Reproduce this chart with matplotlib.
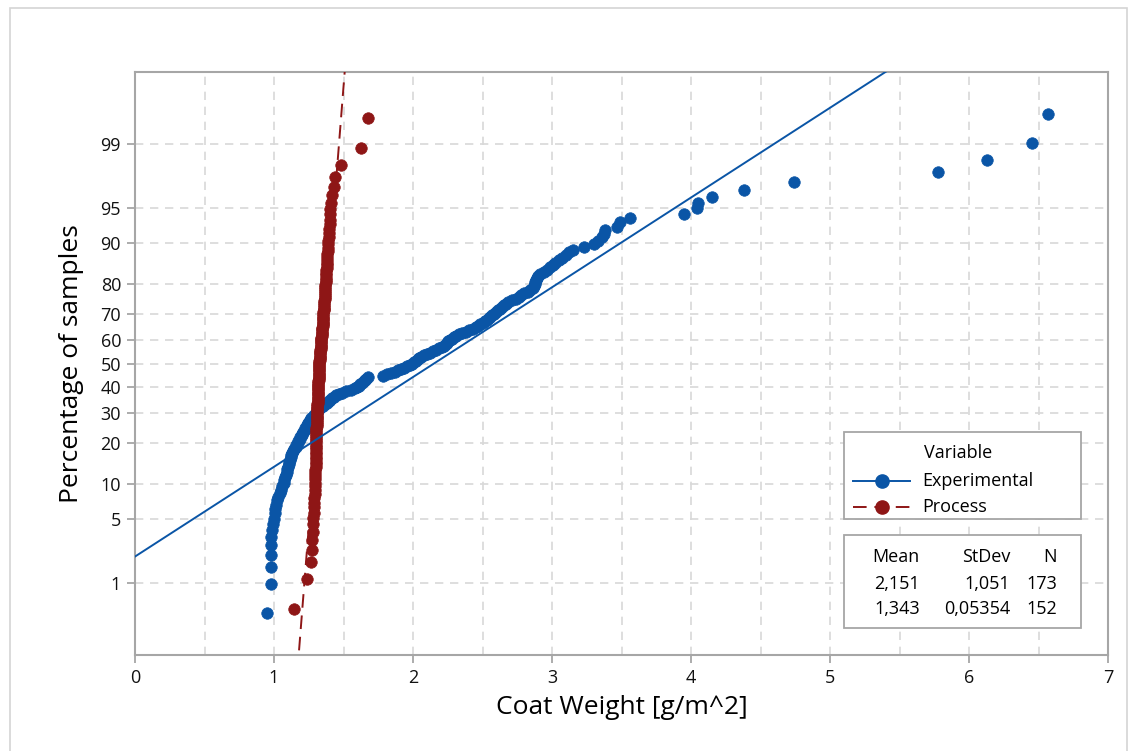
#!/usr/bin/env python3
"""
Normal probability plot of coat weight: experimental vs process samples,
Minitab style (median ranks, fitted normal lines, legend and stats table).
"""

import numpy as np
import matplotlib
matplotlib.use("Agg")
import matplotlib.pyplot as plt
from matplotlib.lines import Line2D
from matplotlib.patches import Rectangle
from matplotlib.ticker import NullLocator
from statistics import NormalDist

plt.rcParams['font.family'] = ['Open Sans', 'DejaVu Sans']

# sorted sample values (g/m^2)
exp_vals = [
    0.95, 0.975, 0.975, 0.975, 0.98, 0.98, 0.985, 0.99, 1.00, 1.007,
    1.01, 1.015, 1.02, 1.03, 1.04, 1.05, 1.06, 1.07, 1.075, 1.08,
    1.085, 1.09, 1.095, 1.10, 1.105, 1.11, 1.115, 1.12, 1.125, 1.13,
    1.14, 1.145, 1.155, 1.16, 1.17, 1.175, 1.185, 1.19, 1.20, 1.205,
    1.21, 1.22, 1.225, 1.235, 1.24, 1.245, 1.25, 1.26, 1.265, 1.28,
    1.29, 1.30, 1.31, 1.315, 1.325, 1.34, 1.35, 1.37, 1.38, 1.395,
    1.405, 1.42, 1.43, 1.445, 1.465, 1.49, 1.52, 1.555, 1.58, 1.60,
    1.61, 1.62, 1.635, 1.645, 1.655, 1.665, 1.675, 1.785, 1.81, 1.84,
    1.87, 1.89, 1.915, 1.935, 1.96, 1.98, 1.995, 2.01, 2.025, 2.035,
    2.045, 2.06, 2.08, 2.10, 2.12, 2.145, 2.165, 2.185, 2.21, 2.225,
    2.235, 2.245, 2.255, 2.265, 2.28, 2.295, 2.31, 2.33, 2.355, 2.38,
    2.405, 2.43, 2.455, 2.47, 2.485, 2.50, 2.515, 2.53, 2.545, 2.555,
    2.57, 2.585, 2.60, 2.61, 2.625, 2.64, 2.655, 2.67, 2.685, 2.71,
    2.74, 2.765, 2.78, 2.80, 2.825, 2.84, 2.86, 2.87, 2.88, 2.88,
    2.885, 2.89, 2.90, 2.915, 2.94, 2.965, 2.985, 3.005, 3.02, 3.05,
    3.075, 3.10, 3.12, 3.15, 3.23, 3.30, 3.33, 3.36, 3.375, 3.38,
    3.465, 3.49, 3.56, 3.95, 4.04, 4.05, 4.15, 4.38, 4.74, 5.78,
    6.13, 6.45, 6.57,
]

proc_vals = [
    1.145, 1.235, 1.265, 1.27, 1.275, 1.278, 1.28, 1.282, 1.285, 1.287,
    1.289, 1.29, 1.292, 1.293, 1.295, 1.296, 1.297, 1.297, 1.298, 1.298,
    1.299, 1.299, 1.30, 1.30, 1.30, 1.30, 1.30, 1.30, 1.301, 1.301,
    1.302, 1.302, 1.303, 1.303, 1.304, 1.304, 1.305, 1.305, 1.306, 1.306,
    1.307, 1.307, 1.308, 1.308, 1.309, 1.309, 1.31, 1.31, 1.311, 1.311,
    1.312, 1.313, 1.313, 1.314, 1.314, 1.315, 1.315, 1.316, 1.316, 1.317,
    1.318, 1.318, 1.319, 1.32, 1.32, 1.321, 1.321, 1.322, 1.322, 1.323,
    1.323, 1.324, 1.324, 1.325, 1.325, 1.325, 1.326, 1.327, 1.328, 1.329,
    1.330, 1.330, 1.332, 1.333, 1.333, 1.335, 1.336, 1.336, 1.338, 1.339,
    1.340, 1.341, 1.341, 1.343, 1.344, 1.345, 1.345, 1.347, 1.348, 1.349,
    1.350, 1.351, 1.352, 1.352, 1.354, 1.355, 1.356, 1.356, 1.358, 1.359,
    1.360, 1.360, 1.362, 1.363, 1.364, 1.365, 1.365, 1.367, 1.368, 1.369,
    1.370, 1.370, 1.372, 1.373, 1.374, 1.375, 1.376, 1.376, 1.378, 1.379,
    1.380, 1.381, 1.383, 1.384, 1.386, 1.388, 1.390, 1.392, 1.394, 1.396,
    1.398, 1.400, 1.402, 1.404, 1.406, 1.410, 1.415, 1.435, 1.44, 1.48,
    1.626, 1.676,
]

labels = ['Experimental', 'Process']
colors = ['#0a55a6', '#8e1616']
styles = ['-', (0, (7, 4))]
means = [2.151, 1.343]
stdevs = [1.051, 0.05354]
counts = [173, 152]

y_ticks = [1, 5, 10, 20, 30, 40, 50, 60, 70, 80, 90, 95, 99]
x_ticks = [0, 1, 2, 3, 4, 5, 6, 7]

_nd = NormalDist()
_ppf = np.vectorize(_nd.inv_cdf, otypes=[float])
_cdf = np.vectorize(_nd.cdf, otypes=[float])


def prob_fwd(p):
    p = np.clip(np.asarray(p, dtype=float), 1e-9, 100 - 1e-9)
    return _ppf(p / 100.0)


def prob_inv(z):
    return _cdf(np.asarray(z, dtype=float)) * 100.0


def median_ranks(n):
    # Minitab default: (i - 0.3) / (n + 0.4)
    return 100.0 * (np.arange(1, n + 1) - 0.3) / (n + 0.4)


W, H = 1136, 751
L, R, T, B = 135, 1108, 72, 655

fig = plt.figure(figsize=(W / 100, H / 100), dpi=100)
fig.patches.append(Rectangle((10 / W, -0.02), 1117 / W, 1.02 - 8 / H,
                             transform=fig.transFigure, fill=False,
                             edgecolor='#d4d4d4', linewidth=1.2))
ax = fig.add_axes([L / W, 1 - B / H, (R - L) / W, (B - T) / H])

ax.set_yscale('function', functions=(prob_fwd, prob_inv))

grid_kw = dict(color='#d8d8d8', linestyle=(0, (5, 4)), linewidth=1.2)
ax.set_xticks(x_ticks)
ax.set_xticks(np.arange(0.5, 7, 1.0), minor=True)
ax.set_yticks(y_ticks)
ax.set_yticklabels([str(t) for t in y_ticks])
ax.yaxis.set_minor_locator(NullLocator())
ax.grid(True, axis='x', which='both', **grid_kw)
ax.grid(True, axis='y', which='major', **grid_kw)
ax.set_axisbelow(True)

p_line = np.array([0.01, 99.99])
for vals, c, ls, m, s in zip([exp_vals, proc_vals], colors, styles, means, stdevs):
    x = np.array(vals)
    ax.plot(x, median_ranks(len(x)), linestyle='none', marker='o', ms=8.3,
            mfc=c, mec=c, mew=0.5, zorder=3)
    ax.plot(m + s * prob_fwd(p_line), p_line, color=c, linestyle=ls,
            linewidth=1.4, zorder=4)

ax.set_xlim(0, 7)
ax.set_ylim(0.1, 99.9)

for sp in ax.spines.values():
    sp.set_color('#a6a6a6')
    sp.set_linewidth(1.5)
ax.tick_params(which='major', length=6, width=1.3, color='#a6a6a6',
               labelsize=13, labelcolor='#111111', pad=4)
ax.tick_params(which='minor', length=0)

ax.set_xlabel('Coat Weight [g/m^2]', fontsize=19, labelpad=6)
ax.set_ylabel('Percentage of samples', fontsize=19, labelpad=12)


def axp(px, py):
    return ((px - L) / (R - L), (B - py) / (B - T))


# legend box
box_kw = dict(transform=ax.transAxes, fill=True, facecolor='white',
              edgecolor='#a6a6a6', linewidth=1.3, zorder=6, clip_on=False)
x0, y0 = axp(844, 519)
x1, y1 = axp(1081, 432)
ax.add_patch(Rectangle((x0, y0), x1 - x0, y1 - y0, **box_kw))
tx, ty = axp(958, 453)
ax.text(tx, ty, 'Variable', transform=ax.transAxes, ha='center', va='center',
        fontsize=13, zorder=7)
for row_y, lab, c, ls in zip([481, 507], labels, colors, styles):
    xa, ya = axp(853, row_y)
    xb, _ = axp(910, row_y)
    xm, _ = axp(881.5, row_y)
    ax.add_line(Line2D([xa, xb], [ya, ya], transform=ax.transAxes, color=c,
                       linestyle=ls, linewidth=1.4, zorder=7, clip_on=False))
    ax.add_line(Line2D([xm], [ya], transform=ax.transAxes, marker='o', ms=9.5,
                       mfc=c, mec=c, linestyle='none', zorder=8, clip_on=False))
    lx, _ = axp(922, row_y)
    ax.text(lx, ya, lab, transform=ax.transAxes, ha='left', va='center',
            fontsize=13, zorder=7)

# stats table
x0, y0 = axp(844, 628)
x1, y1 = axp(1081, 535)
ax.add_patch(Rectangle((x0, y0), x1 - x0, y1 - y0, **box_kw))
col_x = [920, 1010, 1057]
rows = [['Mean', 'StDev', 'N']]
for m, s, n in zip(means, stdevs, counts):
    rows.append([f'{m:.4g}'.replace('.', ','), f'{s:.4g}'.replace('.', ','), str(n)])
for row_y, row in zip([557, 584, 609], rows):
    for cx, txt in zip(col_x, row):
        px, py = axp(cx, row_y)
        ax.text(px, py, txt, transform=ax.transAxes, ha='right', va='center',
                fontsize=13, zorder=7)

fig.savefig('out.png', dpi=100)
